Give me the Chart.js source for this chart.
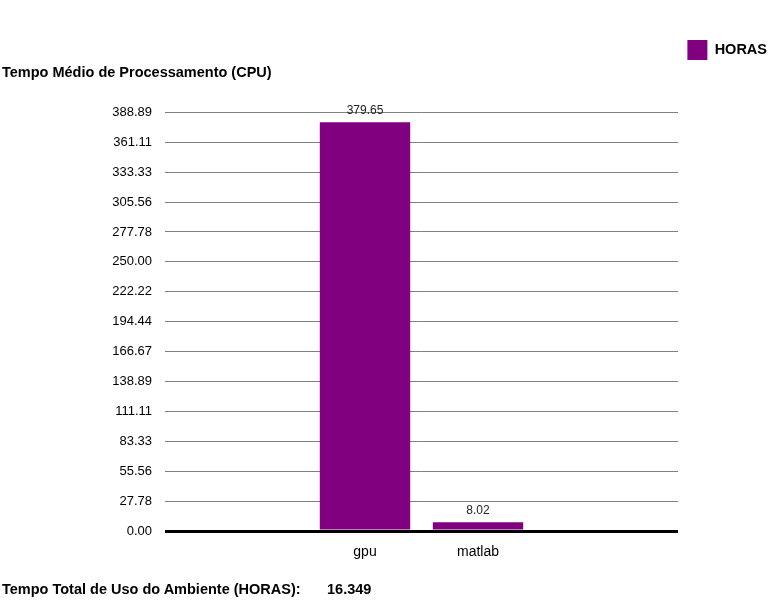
<!DOCTYPE html>
<html>
<head>
<meta charset="utf-8">
<script src="https://cdn.jsdelivr.net/npm/chart.js@4"></script>
<style>
  body { margin: 0; background: #fff; }
  .wrap { position: relative; width: 768px; height: 600px; }
  canvas { position: absolute; left: 0; top: 0; }
  .txt { position: absolute; font-family: "Liberation Sans", Arial, sans-serif; font-weight: bold; font-size: 14.5px; color: #000; white-space: pre; }
</style>
</head>
<body>
<div class="wrap">
  <canvas id="chart" width="768" height="600"></canvas>
  <div class="txt" style="left:2px; top:581px;">Tempo Total de Uso do Ambiente (HORAS):</div>
  <div class="txt" style="left:327px; top:581px;">16.349</div>
</div>
<script>
const categorias = ["gpu", "matlab"]
const horas = [379.65, 8.02]
const yTicks = [0, 27.78, 55.56, 83.33, 111.11, 138.89, 166.67, 194.44, 222.22, 250.00, 277.78, 305.56, 333.33, 361.11, 388.89]

const roxo = "#800080"
const fonte = "'Liberation Sans', Arial, sans-serif"

// valores em cima das barras
const valorBarras = {
    id: "valorBarras",
    afterDatasetsDraw(chart) {
        const ctx = chart.ctx
        const meta = chart.getDatasetMeta(0)
        ctx.save()
        ctx.font = `12px ${fonte}`
        ctx.fillStyle = "#222"
        ctx.textAlign = "center"
        ctx.textBaseline = "bottom"
        meta.data.forEach((bar, i) => {
            ctx.fillText(horas[i].toFixed(2), bar.x, bar.y - 6)
        })
        ctx.restore()
    }
}

new Chart(document.querySelector("canvas#chart"), {
    type: "bar",
    data: {
        datasets: [{
            label: "HORAS",
            data: horas.map((v, i) => ({ x: i, y: v })),
            backgroundColor: roxo,
            borderWidth: 0,
            barPercentage: 0.8,
            categoryPercentage: 1
        }]
    },
    plugins: [valorBarras],
    options: {
        responsive: false,
        animation: false,
        layout: { padding: { left: 2, right: 0, top: 39, bottom: 0 } },
        plugins: {
            tooltip: { enabled: false },
            legend: {
                position: "top",
                align: "end",
                labels: {
                    boxWidth: 20,
                    boxHeight: 20,
                    padding: 1,
                    color: "#000",
                    font: { family: fonte, size: 14.5, weight: "bold" }
                }
            },
            title: {
                display: true,
                text: "Tempo Médio de Processamento (CPU)",
                position: "top",
                align: "start",
                weight: 500,
                color: "#000",
                font: { family: fonte, size: 14.5, weight: "bold" },
                padding: { top: -6, bottom: 31 }
            }
        },
        scales: {
            x: {
                type: "linear",
                min: -1.77,
                max: 2.77,
                offset: false,
                grid: { display: false },
                border: { display: false },
                afterBuildTicks: (scale) => {
                    scale.ticks = categorias.map((c, i) => ({ value: i }))
                },
                afterFit: (scale) => { scale.height = 69 },
                ticks: {
                    padding: 5,
                    color: "#000",
                    font: { family: fonte, size: 14 },
                    callback: (v) => categorias[v] ?? ""
                }
            },
            y: {
                min: 0,
                max: 388.89,
                afterBuildTicks: (scale) => {
                    scale.ticks = yTicks.map(v => ({ value: v }))
                },
                afterFit: (scale) => { scale.width = 163 },
                border: { display: false },
                grid: {
                    drawTicks: false,
                    color: (c) => c.tick && c.tick.value === 0 ? "#000" : "#808080",
                    lineWidth: (c) => c.tick && c.tick.value === 0 ? 3 : 1
                },
                ticks: {
                    padding: 13,
                    color: "#000",
                    font: { family: fonte, size: 13 },
                    callback: (v) => v.toFixed(2)
                }
            },
            // eixo vazio so para reservar a margem da direita
            margem: {
                type: "linear",
                position: "right",
                grid: { display: false },
                border: { display: false },
                ticks: { display: false },
                afterFit: (scale) => { scale.width = 90 }
            }
        }
    }
})
</script>
</body>
</html>
